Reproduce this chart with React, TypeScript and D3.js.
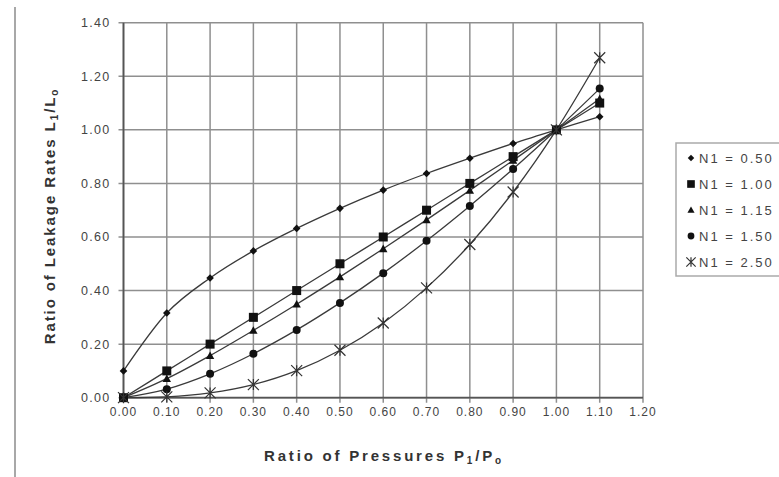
import React from "react";
import * as d3 from "d3";

const xValues = [0, 0.1, 0.2, 0.3, 0.4, 0.5, 0.6, 0.7, 0.8, 0.9, 1.0, 1.1];
const seriesNames = ["N1 = 0.50", "N1 = 1.00", "N1 = 1.15", "N1 = 1.50", "N1 = 2.50"];
const n050 = [0.1, 0.316, 0.447, 0.548, 0.632, 0.707, 0.775, 0.837, 0.894, 0.949, 1.0, 1.049];
const n100 = [0, 0.1, 0.2, 0.3, 0.4, 0.5, 0.6, 0.7, 0.8, 0.9, 1.0, 1.1];
const n115 = [0, 0.071, 0.157, 0.251, 0.349, 0.451, 0.556, 0.664, 0.774, 0.886, 1.0, 1.116];
const n150 = [0, 0.032, 0.089, 0.164, 0.253, 0.354, 0.465, 0.586, 0.716, 0.854, 1.0, 1.154];
const n250 = [0, 0.003, 0.018, 0.049, 0.101, 0.177, 0.279, 0.41, 0.572, 0.768, 1.0, 1.269];
const markers = ["diamond", "square", "triangle", "circle", "star"];
const xTicks = [0, 0.1, 0.2, 0.3, 0.4, 0.5, 0.6, 0.7, 0.8, 0.9, 1.0, 1.1, 1.2];
const yTicks = [0, 0.2, 0.4, 0.6, 0.8, 1.0, 1.2, 1.4];

const allSeries = [n050, n100, n115, n150, n250];

function Marker({ type, x, y, k = 1 }: { type: string; x: number; y: number; k?: number }) {
  const c = "#111";
  if (type === "diamond") {
    const s = 3.8 * k;
    return <path d={`M${x},${y - s}L${x + s},${y}L${x},${y + s}L${x - s},${y}Z`} fill={c} />;
  }
  if (type === "square") {
    const s = 4.5 * k;
    return <rect x={x - s} y={y - s} width={2 * s} height={2 * s} fill={c} />;
  }
  if (type === "triangle") {
    const s = 4.2 * k;
    return <path d={`M${x},${y - s}L${x + s},${y + s * 0.8}L${x - s},${y + s * 0.8}Z`} fill={c} />;
  }
  if (type === "circle") {
    return <circle cx={x} cy={y} r={4 * k} fill={c} />;
  }
  const s = 5.5 * k;
  return (
    <path
      d={`M${x - s},${y - s}L${x + s},${y + s}M${x - s},${y + s}L${x + s},${y - s}M${x},${y - s}L${x},${y + s}`}
      stroke="#333"
      strokeWidth={1.2}
      fill="none"
    />
  );
}

export default function App() {
  const W = 779;
  const H = 477;
  const left = 123.5;
  const right = 643;
  const top = 22.7;
  const bottom = 397.7;
  const x = d3.scaleLinear().domain([0, 1.2]).range([left, right]);
  const y = d3.scaleLinear().domain([0, 1.4]).range([bottom, top]);
  const line = d3
    .line<number>()
    .x((_, i) => x(xValues[i]))
    .y((d) => y(d))
    .curve(d3.curveCardinal.tension(0));
  const font = "Arial, 'Liberation Sans', sans-serif";
  const gridColor = "#8f8f8f";

  return (
    <svg
      width={W}
      height={H}
      style={{ position: "absolute", left: 0, top: 0, background: "#fff" }}
      fontFamily={font}
    >
      <line x1={15} x2={15} y1={7} y2={477} stroke="#a8a8a8" strokeWidth={2} />
      {xTicks.map((t) => (
        <line key={"gx" + t} x1={x(t)} x2={x(t)} y1={top} y2={bottom + 5} stroke={gridColor} strokeWidth={1.5} />
      ))}
      {yTicks.map((t) => (
        <line key={"gy" + t} x1={left - 5} x2={right} y1={y(t)} y2={y(t)} stroke={gridColor} strokeWidth={1.5} />
      ))}
      <line x1={left} x2={left} y1={top} y2={bottom} stroke="#555" strokeWidth={1.8} />
      <line x1={left} x2={right} y1={bottom} y2={bottom} stroke="#555" strokeWidth={1.8} />
      {xTicks.map((t) => (
        <text key={"tx" + t} x={x(t)} y={bottom + 18} textAnchor="middle" fontSize={12} fill="#444" letterSpacing={1}>
          {t.toFixed(2)}
        </text>
      ))}
      {yTicks.map((t) => (
        <text key={"ty" + t} x={left - 13} y={y(t) + 4.5} textAnchor="end" fontSize={12.5} fill="#444" letterSpacing={1.3}>
          {t.toFixed(2)}
        </text>
      ))}
      {allSeries.map((s, i) => (
        <path key={"l" + i} d={line(s) || ""} fill="none" stroke="#3a3a3a" strokeWidth={1.3} />
      ))}
      {allSeries.map((s, i) =>
        s.map((v, j) => <Marker key={"m" + i + "-" + j} type={markers[i]} x={x(xValues[j])} y={y(v)} />)
      )}
      <text x={384} y={461} textAnchor="middle" fontSize={15} fontWeight="bold" fill="#333" letterSpacing={2.8}>
        Ratio of Pressures P
        <tspan fontSize={10} dy={3}>1</tspan>
        <tspan dy={-3}>/P</tspan>
        <tspan fontSize={10} dy={3}>o</tspan>
      </text>
      <text
        transform={`translate(55, 216) rotate(-90)`}
        textAnchor="middle"
        fontSize={15}
        fontWeight="bold"
        fill="#333"
        letterSpacing={1.9}
      >
        Ratio of Leakage Rates L
        <tspan fontSize={10} dy={3}>1</tspan>
        <tspan dy={-3}>/L</tspan>
        <tspan fontSize={10} dy={3}>o</tspan>
      </text>
      <rect x={676} y={143} width={110} height={133} fill="#fff" stroke="#aaa" strokeWidth={1.5} />
      {seriesNames.map((n, i) => (
        <g key={"lg" + i}>
          <Marker type={markers[i]} x={691} y={158 + i * 26} k={0.85} />
          <text x={699} y={158 + i * 26 + 4.5} fontSize={13} fill="#444" letterSpacing={2}>
            {n}
          </text>
        </g>
      ))}
    </svg>
  );
}
